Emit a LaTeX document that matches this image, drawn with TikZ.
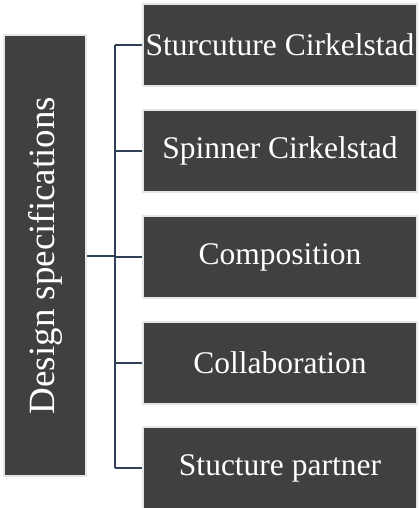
\documentclass[tikz,border=0pt]{standalone}
\usepackage{fontspec}
\setmainfont{Liberation Serif}
\usepackage{xcolor}
\usetikzlibrary{positioning}

\definecolor{boxgray}{HTML}{404040}
\definecolor{rimgray}{HTML}{E6E6E6}
\definecolor{linkblue}{HTML}{2F4056}

\begin{document}
\begin{tikzpicture}[x=1pt, y=-1pt, font=\fontsize{31.5}{34}\selectfont]
        \tikzset{
            specbox/.style={fill=boxgray, draw=rimgray, line width=2pt, text=white, inner sep=0pt},
            link/.style={draw=linkblue, line width=2pt}
        }
        \useasboundingbox (0,0) rectangle (419,508);
        
        % left box
        \node[specbox, rotate=90, minimum width=441, minimum height=82, font=\fontsize{37}{40}\selectfont] (spec) at (45,255.5) {Design specifications};
        
        % right boxes
        \foreach \i/\yy/\txt in {1/45/Sturcuture Cirkelstad, 2/151/Spinner Cirkelstad, 3/257/Composition, 4/363/Collaboration, 5/468/Stucture partner}
            \node[specbox, minimum width=274, minimum height=82] (b\i) at (280,\yy) {\txt};
        
        \coordinate (jt) at (115,0);
        
        % connectors
        \draw[link] (spec.south) -- (jt |- spec.south);
        \draw[link] (jt |- b1.west) -- (jt |- b5.west);
        \foreach \i in {1,...,5}
            \draw[link] (jt |- b\i.west) -- (b\i.west);
        
    \end{tikzpicture}
\end{document}
